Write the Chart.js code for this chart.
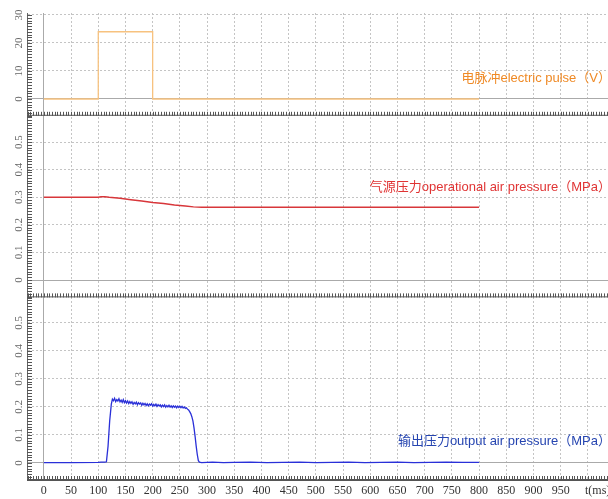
<!DOCTYPE html>
<html>
<head>
<meta charset="utf-8">
<script src="https://cdn.jsdelivr.net/npm/chart.js@4"></script>
<style>
  html, body { margin: 0; padding: 0; background: #fff; }
  #wrap { width: 608px; height: 499px; }
</style>
</head>
<body>
<div id="wrap"><canvas id="pulseChart" width="608" height="499"></canvas></div>
<script>
// x axis (ms)
var xTicks = [0, 50, 100, 150, 200, 250, 300, 350, 400, 450, 500, 550, 600, 650, 700, 750, 800, 850, 900, 950, 1000];
var xLabels = ['0', '50', '100', '150', '200', '250', '300', '350', '400', '450', '500', '550', '600', '650', '700', '750', '800', '850', '900', '950', ''];

// y ticks per panel
var pulseTicks = [0, 10, 20, 30];
var pulseTickLabels = ['0', '10', '20', '30'];
var airTicks = [0, 0.1, 0.2, 0.3, 0.4, 0.5];
var airTickLabels = ['0', '0.1', '0.2', '0.3', '0.4', '0.5'];
var outTicks = [0, 0.1, 0.2, 0.3, 0.4, 0.5];
var outTickLabels = ['0', '0.1', '0.2', '0.3', '0.4', '0.5'];

// electric pulse (V)
var pulseT = [0, 100, 100, 200, 200, 800];
var pulseV = [0, 0, 24, 24, 0, 0];

// operational air pressure (MPa)
var airT = [0, 100, 105, 112, 120, 140, 160, 180, 200, 220, 240, 260, 275, 290, 400, 600, 800];
var airV = [0.300, 0.300, 0.302, 0.302, 0.300, 0.296, 0.291, 0.286, 0.281, 0.277, 0.272, 0.268, 0.265, 0.264, 0.264, 0.264, 0.264];

// output air pressure (MPa)
var outT = [0, 50, 100, 105, 112, 115, 118, 121, 124, 126, 128, 130, 132, 134, 136, 138, 140, 142, 144, 146, 148,
  150, 152, 154, 156, 158, 160, 162, 164, 166, 168, 170, 172, 174, 176, 178, 180, 182, 184, 186, 188,
  190, 192, 194, 196, 198, 200, 202, 204, 206, 208, 210, 212, 214, 216, 218, 220, 222, 224, 226, 228,
  230, 232, 234, 236, 238, 240, 242, 244, 246, 248, 250, 252, 254, 256, 258, 260, 262, 264, 266, 268,
  270, 272, 274, 276, 278, 280, 282, 284, 286, 290, 310, 330, 350, 380, 410, 440, 470, 500, 530, 560,
  590, 620, 650, 680, 710, 740, 770, 800];
var outV = [0.001, 0.001, 0.002, 0.003, 0.003, 0.004, 0.060, 0.150, 0.210, 0.228, 0.222, 0.231, 0.219, 0.226, 0.221, 0.229, 0.218, 0.224, 0.216, 0.226, 0.215,
  0.222, 0.214, 0.221, 0.212, 0.219, 0.213, 0.218, 0.209, 0.216, 0.211, 0.217, 0.208, 0.215, 0.210, 0.214, 0.206, 0.213, 0.207, 0.212, 0.205,
  0.211, 0.204, 0.210, 0.206, 0.211, 0.203, 0.209, 0.204, 0.210, 0.202, 0.208, 0.203, 0.207, 0.200, 0.206, 0.201, 0.207, 0.199, 0.205, 0.200,
  0.206, 0.199, 0.204, 0.198, 0.204, 0.199, 0.203, 0.197, 0.203, 0.198, 0.202, 0.197, 0.202, 0.196, 0.200, 0.195, 0.197, 0.192, 0.189, 0.183,
  0.176, 0.165, 0.150, 0.125, 0.095, 0.060, 0.030, 0.008, 0.003, 0.001, 0.003, 0.001, 0.002, 0.003, 0.001, 0.002, 0.003, 0.001, 0.002, 0.003,
  0.001, 0.002, 0.003, 0.001, 0.002, 0.003, 0.002, 0.002];

var seriesLabels = ['电脉冲electric pulse（V）', '气源压力operational air pressure（MPa）', '输出压力output air pressure（MPa）'];

function toPoints(ts, vs) {
    return ts.map(function(t, i) { return { x: t, y: vs[i] }; });
}

function zeroDash(ctx) {
    if (!ctx.tick) return [];
    return ctx.tick.value === 0 ? [] : [2, 2];
}
function zeroColor(ctx) {
    if (!ctx.tick) return '#bbb';
    return ctx.tick.value === 0 ? '#aaaaaa' : '#c4c4c4';
}

function yScale(min, max, weight, ticks) {
    return {
        type: 'linear',
        position: 'left',
        stack: 'panels',
        stackWeight: weight,
        min: min,
        max: max,
        afterBuildTicks: function(s) { s.ticks = ticks.map(function(v) { return { value: v }; }); },
        afterFit: function(s) { s.width = 27; },
        ticks: { display: false },
        grid: { color: zeroColor, lineWidth: 1, drawTicks: false },
        border: { display: true, color: '#666', width: 1, dash: zeroDash }
    };
}

// minor ticks, panel separators, rotated y labels and series names
var panelDecor = {
    id: 'panelDecor',
    afterDraw: function(chart) {
        var ctx = chart.ctx;
        var area = chart.chartArea;
        var xs = chart.scales.x;
        var panels = [
            { s: chart.scales.yPulse, step: 1, ticks: pulseTicks, labels: pulseTickLabels },
            { s: chart.scales.yAir, step: 0.01, ticks: airTicks, labels: airTickLabels },
            { s: chart.scales.yOut, step: 0.01, ticks: outTicks, labels: outTickLabels }
        ];
        ctx.save();
        ctx.strokeStyle = '#555';
        ctx.lineWidth = 1;
        panels.forEach(function(p) {
            var s = p.s;
            // bottom separator with ticks pointing up
            ctx.beginPath();
            ctx.moveTo(area.left, s.bottom - 0.5);
            ctx.lineTo(area.right, s.bottom - 0.5);
            for (var t = -30; t <= xs.max; t += 5) {
                var px = Math.round(xs.getPixelForValue(t)) + 0.5;
                ctx.moveTo(px, s.bottom);
                ctx.lineTo(px, s.bottom - 4);
            }
            // left minor ticks
            var n0 = Math.ceil(s.min / p.step), n1 = Math.floor(s.max / p.step);
            for (var k = n0; k <= n1; k++) {
                var py = Math.round(s.getPixelForValue(k * p.step)) + 0.5;
                ctx.moveTo(area.left, py);
                ctx.lineTo(area.left + 5, py);
            }
            ctx.stroke();
            // rotated tick labels
            ctx.fillStyle = '#666';
            ctx.font = '11px "Liberation Serif", serif';
            ctx.textAlign = 'center';
            ctx.textBaseline = 'middle';
            p.ticks.forEach(function(v, i) {
                ctx.save();
                ctx.translate(19, s.getPixelForValue(v));
                ctx.rotate(-Math.PI / 2);
                ctx.fillText(p.labels[i], 0, 0);
                ctx.restore();
            });
        });
        ctx.fillStyle = '#333';
        ctx.font = '12px "Liberation Serif", serif';
        ctx.textAlign = 'left';
        ctx.fillText('t(ms)', 585, 491);

        ctx.font = '13px "Liberation Sans", "Noto Sans CJK SC", sans-serif';
        ctx.textAlign = 'right';
        ctx.textBaseline = 'middle';
        ctx.fillStyle = '#ef8a26';
        ctx.fillText(seriesLabels[0], 611, 78);
        ctx.fillStyle = '#e03434';
        ctx.fillText(seriesLabels[1], 611, 187);
        ctx.fillStyle = '#2645b0';
        ctx.fillText(seriesLabels[2], 611, 441);
        ctx.restore();
    }
};

document.addEventListener("DOMContentLoaded", function() {
    var canvas = document.getElementById("pulseChart");
    new Chart(canvas, {
        type: 'line',
        data: {
            datasets: [{
                label: seriesLabels[0],
                data: toPoints(pulseT, pulseV),
                yAxisID: 'yPulse',
                borderColor: '#f7c27f',
                borderWidth: 1.3,
                pointRadius: 0,
                tension: 0
            }, {
                label: seriesLabels[1],
                data: toPoints(airT, airV),
                yAxisID: 'yAir',
                borderColor: '#d8363a',
                borderWidth: 1.5,
                pointRadius: 0,
                tension: 0
            }, {
                label: seriesLabels[2],
                data: toPoints(outT, outV),
                yAxisID: 'yOut',
                borderColor: '#2a30d8',
                borderWidth: 1.3,
                pointRadius: 0,
                tension: 0
            }]
        },
        options: {
            responsive: false,
            animation: false,
            devicePixelRatio: 1,
            layout: { padding: { top: 13, left: 0, right: 0, bottom: 0 } },
            plugins: {
                legend: { display: false },
                tooltip: { enabled: false }
            },
            scales: {
                x: {
                    type: 'linear',
                    position: 'bottom',
                    min: -31,
                    max: 1037,
                    afterBuildTicks: function(s) { s.ticks = xTicks.map(function(v) { return { value: v }; }); },
                    afterFit: function(s) { s.height = 19; },
                    ticks: {
                        autoSkip: false,
                        maxRotation: 0,
                        padding: 4,
                        color: '#333',
                        font: { family: '"Liberation Serif", serif', size: 12 },
                        callback: function(v, i) { return xLabels[i]; }
                    },
                    grid: { color: zeroColor, lineWidth: 1, drawTicks: false },
                    border: { display: true, color: '#555', width: 1, dash: zeroDash }
                },
                // stacked panels: last defined ends up on top
                yOut: yScale(-0.061, 0.591, 182.6, outTicks),
                yAir: yScale(-0.063, 0.595, 181.6, airTicks),
                yPulse: yScale(-6, 30.7, 102.8, pulseTicks)
            }
        },
        plugins: [panelDecor]
    });
});
</script>
</body>
</html>
